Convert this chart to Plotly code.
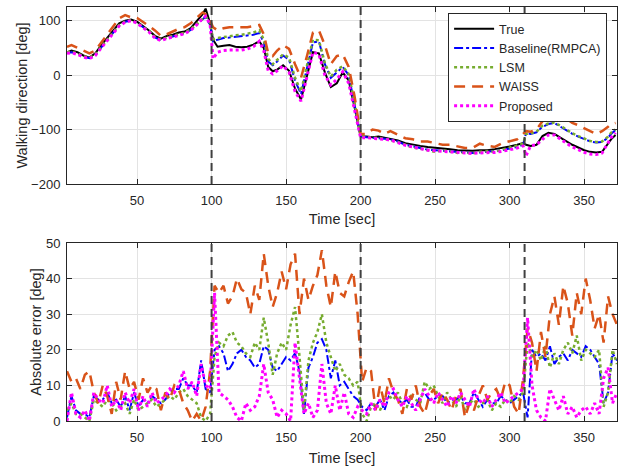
import plotly.graph_objects as go

# ---------------- top panel data: walking direction [deg] ----------------
t_top = [3, 6, 10, 14, 18, 22, 26, 30, 34, 38, 42, 46, 50, 54, 58, 62, 66, 70, 74, 78, 82, 86, 90, 94,
         96, 99, 101,
         104, 108, 112, 116, 120, 124, 128, 132,
         135, 138, 141, 144,
         148, 152, 156, 160, 164, 168, 172, 176, 180, 184, 188, 192, 196, 200,
         204, 208, 212, 216, 220,
         225, 230, 235, 240, 245, 250, 255, 260, 265, 270, 275, 280, 285, 290, 295, 300, 305,
         309, 311, 314,
         318, 322, 326, 330, 334, 338, 342, 346, 350, 354, 358, 362, 366,
         368, 371]

dir_true = [42, 45, 42, 36, 32, 40, 55, 68, 80, 95, 100, 102, 98, 90, 82, 72, 67, 72, 74, 78, 80, 86, 98, 112,
            122, 95, 65,
            52, 54, 55, 52, 51, 52, 56, 62,
            50, 15, 7, 10,
            18, 8, -25, -45, 0, 42, 40, 5, -22, -15, 5, -10, -60, -113,
            -113, -114, -113, -115, -118,
            -120, -125, -128, -130, -132, -133, -134, -136, -138, -139, -139, -138, -138, -136, -134, -131, -128,
            -125, -128, -130,
            -128, -112, -106, -108, -115, -122, -128, -133, -138, -141, -142, -141, -124,
            -118, -110]

dir_baseline = [41, 42, 39, 34, 31, 37, 51, 64, 77, 91, 98, 100, 96, 88, 80, 69, 64, 68, 71, 74, 77, 83, 93, 103,
                107, 92, 62,
                65, 68, 69, 70, 71, 72, 74, 77,
                60, 25, 18, 25,
                36, 28, -10, -35, 15, 60, 62, 20, -5, 5, 15, 0, -55, -112,
                -114, -115, -116, -116, -118,
                -122, -128, -131, -134, -137, -138, -139, -141, -142, -143, -143, -142, -141, -140, -138, -135, -132,
                -128, -106, -108,
                -105, -95, -90, -88, -95, -102, -108, -113, -118, -122, -124, -123, -115,
                -108, -101]

dir_lsm = [42, 43, 40, 35, 32, 38, 52, 65, 78, 92, 98, 101, 96, 89, 81, 70, 65, 69, 72, 75, 78, 84, 94, 104,
           108, 95, 66,
           68, 70, 72, 73, 74, 76, 78, 82,
           65, 30, 20, 28,
           38, 32, -5, -30, 20, 65, 64, 22, -3, 10, 16, 2, -52, -112,
           -113, -115, -115, -118, -120,
           -123, -128, -133, -135, -138, -141, -138, -140, -143, -142, -144, -141, -140, -141, -137, -134, -130,
           -126, -108, -107,
           -104, -93, -89, -87, -93, -100, -107, -112, -117, -121, -123, -122, -113,
           -106, -100]

dir_waiss = [52, 55, 50, 45, 40, 45, 60, 75, 90, 104, 110, 106, 105, 98, 90, 82, 72, 75, 80, 85, 88, 95, 105, 115,
             112, 100, 88,
             82, 86, 88, 88, 88, 88, 90, 92,
             75, 40, 35, 45,
             55, 48, 20, -5, 35, 78, 82, 55, 20, 35, 38, 15, -40, -108,
             -108, -100, -102, -108, -103,
             -110, -116, -118, -122, -122, -125, -128, -128, -131, -134, -134, -126, -130, -132, -125, -122, -118,
             -108, -103, -104,
             -100, -85, -73, -75, -80, -80, -88, -92, -98, -103, -108, -103, -95,
             -90, -88]

dir_proposed = [40, 41, 38, 33, 30, 36, 50, 63, 76, 90, 97, 100, 95, 87, 79, 68, 63, 67, 70, 73, 76, 82, 92, 104,
                108, 93, 30,
                42, 45, 46, 46, 46, 48, 52, 62,
                45, 8, 2, 8,
                17, 5, -30, -48, -5, 42, 38, 0, -18, -8, 6, -15, -65, -115,
                -115, -116, -116, -117, -119,
                -124, -129, -132, -135, -138, -139, -140, -142, -143, -144, -144, -143, -143, -142, -140, -137, -134,
                -130, -148, -130,
                -128, -118, -110, -110, -118, -125, -132, -137, -142, -145, -146, -143, -125,
                -115, -106]

# ---------------- bottom panel data: absolute error [deg] ----------------
t_err = list(range(3, 373, 3))

err_baseline = [1, 7, 3, 2, 2, 1, 7, 6, 6, 8, 5, 6, 4, 7, 3, 8, 4, 6, 5, 7, 6, 5, 6, 8, 9, 9, 12, 10, 10, 8, 17, 9, 8,
                20, 21, 19, 14, 16, 19, 20, 18, 17, 15, 16, 21, 20, 15, 14, 16, 18, 17, 19, 14, 2, 15, 18, 22, 23,
                20, 12, 17, 10, 11, 9, 7, 6,
                4, 3, 5, 4, 6, 3, 7, 8, 6, 5, 6, 4, 4, 7, 8, 6, 6, 7, 7, 5, 6, 6, 7, 5, 5, 8, 6, 4, 6, 5, 5, 7, 6,
                5, 6, 7, 8,
                1, 20, 18, 19, 17, 21, 16, 18, 19, 17, 20, 19, 18, 21, 20, 18, 16, 5, 8, 19, 17]

err_lsm = [3, 5, 2, 2, 1, 0, 6, 5, 4, 6, 5, 3, 4, 5, 2, 6, 3, 4, 5, 6, 4, 5, 6, 7, 6, 8, 9, 7, 6, 5, 1, 0, 2,
           18, 22, 21, 24, 25, 22, 21, 19, 18, 22, 20, 29, 22, 13, 19, 22, 20, 27, 32, 18, 3, 17, 22, 25, 30,
           22, 18, 14, 16, 13, 12, 10, 11,
           2, 0, 4, 5, 3, 6, 7, 6, 8, 5, 4, 7, 6, 5, 11, 9, 10, 7, 5, 8, 6, 4, 7, 3, 5, 6, 4, 5, 6, 3, 5, 4, 6,
           5, 7, 6, 8,
           22, 18, 20, 17, 21, 15, 19, 16, 20, 22, 19, 24, 17, 20, 19, 18, 20, 4, 8, 20, 16]

err_waiss = [14, 11, 12, 9, 13, 14, 8, 5, 10, 7, 2, 11, 6, 14, 9, 11, 6, 12, 8, 10, 9, 3, 8, 6, 10, 9, 5, 3, 0, 2,
             0, 4, 14,
             38, 36, 38, 33, 35, 40, 37, 36, 30, 38, 34, 47, 38, 32, 36, 42, 37, 44, 47, 30, 40, 34, 38, 41, 48,
             38, 32, 42, 36, 35, 39, 42, 30,
             11, 15, 14, 3, 10, 5, 12, 8, 6, 2, 9, 6, 10, 4, 2, 7, 9, 5, 8, 6, 3, 7, 9, 1, 5, 3, 7, 10, 6, 8, 9,
             6, 11, 10, 4, 2, 12,
             26, 22, 14, 25, 18, 30, 35, 27, 38, 33, 24, 36, 30, 40, 34, 26, 30, 22, 35, 30, 27]

err_proposed = [0, 8, 2, 1, 3, 0, 8, 6, 5, 10, 4, 6, 3, 8, 5, 9, 3, 7, 4, 8, 5, 6, 7, 9, 8, 10, 14, 9, 11, 7, 16,
                10, 9,
                36, 8, 7, 6, 4, 1, 0, 5, 3, 4, 7, 16, 8, 6, 1, 3, 2, 0, 22, 12, 2, 5, 1, 3, 16, 5, 2, 10, 3, 8, 2,
                1, 4,
                3, 2, 5, 3, 6, 4, 8, 9, 6, 4, 7, 5, 3, 6, 9, 7, 5, 8, 6, 4, 7, 5, 8, 6, 4, 9, 6, 5, 7, 4, 6, 8, 5,
                6, 7, 8, 9,
                29, 10, 3, 1, 0, 9, 6, 3, 7, 2, 4, 1, 3, 4, 2, 5, 2, 12, 15, 5, 8]

event_times = [100, 200, 310]
x_ticks = [50, 100, 150, 200, 250, 300, 350]

# ---------------- styling ----------------
FONT = "Liberation Sans, Arial, sans-serif"
TXT = "#262626"
styles = {
    "True": dict(color="#000000", dash="solid", width=2),
    "Baseline(RMPCA)": dict(color="#0000ff", dash="dashdot", width=2),
    "LSM": dict(color="#77ac30", dash="dot", width=2.5),
    "WAISS": dict(color="#d95319", dash="11px,7px", width=2.5),
    "Proposed": dict(color="#ff00ff", dash="dot", width=3),
}

fig = go.Figure()

top_series = [("True", dir_true), ("Baseline(RMPCA)", dir_baseline), ("LSM", dir_lsm),
              ("WAISS", dir_waiss), ("Proposed", dir_proposed)]
for name, vals in top_series:
    fig.add_trace(go.Scatter(x=t_top, y=vals, mode="lines", name=name, line=styles[name],
                             xaxis="x", yaxis="y", showlegend=True))

bot_series = [("Baseline(RMPCA)", err_baseline), ("LSM", err_lsm),
              ("WAISS", err_waiss), ("Proposed", err_proposed)]
for name, vals in bot_series:
    fig.add_trace(go.Scatter(x=t_err, y=vals, mode="lines", name=name, line=styles[name],
                             xaxis="x2", yaxis="y2", showlegend=False))

shapes = []
for xr, yr in (("x", "y domain"), ("x2", "y2 domain")):
    for ev in event_times:
        shapes.append(dict(type="line", xref=xr, yref=yr, x0=ev, x1=ev, y0=0, y1=1,
                           line=dict(color="#404040", width=2, dash="8px,5px"), layer="above"))


def x_axis(standoff):
    return dict(range=[3, 372], tickvals=x_ticks, ticks="inside", ticklen=5, tickcolor=TXT,
                showline=True, linecolor=TXT, linewidth=1, mirror="ticks",
                showgrid=True, gridcolor="#e3e3e3", zeroline=False, automargin=False,
                tickfont=dict(family=FONT, size=13, color=TXT), ticklabelstandoff=4,
                title=dict(text="Time [sec]", font=dict(family=FONT, size=14.5, color=TXT),
                           standoff=standoff))


common_y = dict(ticks="inside", ticklen=5, tickcolor=TXT,
                showline=True, linecolor=TXT, linewidth=1, mirror="ticks",
                showgrid=True, gridcolor="#e3e3e3", zeroline=False, automargin=False,
                tickfont=dict(family=FONT, size=13, color=TXT), ticklabelstandoff=3)

fig.update_layout(
    width=627, height=467,
    margin=dict(l=67, r=10, t=7, b=46),
    paper_bgcolor="white", plot_bgcolor="white",
    font=dict(family=FONT, size=13, color=TXT),
    xaxis=dict(domain=[0, 1], anchor="y", **x_axis(7)),
    xaxis2=dict(domain=[0, 1], anchor="y2", **x_axis(9)),
    yaxis=dict(domain=[0.5725, 1], anchor="x", range=[-200, 125], tickvals=[-200, -100, 0, 100],
               title=dict(text="Walking direction [deg]", font=dict(family=FONT, size=14.5, color=TXT),
                          standoff=0),
               **common_y),
    yaxis2=dict(domain=[0, 0.43], anchor="x2", range=[0, 50], tickvals=[0, 10, 20, 30, 40, 50],
                title=dict(text="Absolute error [deg]", font=dict(family=FONT, size=14.5, color=TXT),
                           standoff=0),
                **common_y),
    legend=dict(x=0.982, y=0.985, xanchor="right", yanchor="top", bgcolor="white",
                bordercolor=TXT, borderwidth=1, font=dict(family=FONT, size=12.5, color=TXT),
                itemwidth=40, tracegroupgap=0),
    shapes=shapes,
)

fig.write_html("out.html")
